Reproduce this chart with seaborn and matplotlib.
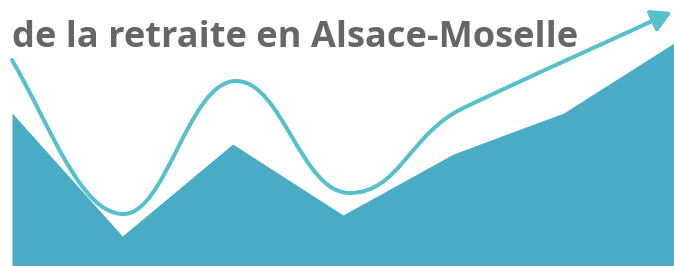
import matplotlib
matplotlib.use("Agg")
import matplotlib.pyplot as plt
import seaborn as sns
import pandas as pd
from matplotlib.path import Path
from matplotlib.patches import FancyArrowPatch

sns.set_theme(style="white")
plt.rcParams['font.family'] = ['Open Sans', 'DejaVu Sans']

# Area series (category index, value)
area_x = [0, 1, 2, 3, 4, 5, 6]
area_y = [153, 30, 122, 51, 112, 153, 223]

# Trend curve: bezier anchor/control points (x in category units, y in value units)
curve_x = [0.0, 0.35, 0.62, 1.01, 1.4, 1.6, 2.03, 2.45, 2.62, 3.06, 3.51, 3.60, 4.09, 4.7, 5.4, 5.98]
curve_y = [206, 140, 52, 52, 52, 185, 185, 185, 73, 73, 73, 132, 158, 190, 224.5, 254]

title = "de la retraite en Alsace-Moselle"

area_color = "#4aabc4"
curve_color = "#57c0cf"

fig = plt.figure(figsize=(6.74, 2.66), dpi=100)
ax = fig.add_axes([0, 0, 1, 1])

df = pd.DataFrame({"x": area_x, "y": area_y})
sns.lineplot(data=df, x="x", y="y", ax=ax, color=area_color, linewidth=0)
ax.fill_between(df["x"], df["y"], 0, color=area_color, linewidth=0)

codes = [Path.MOVETO] + [Path.CURVE4] * (len(curve_x) - 1)
path = Path(list(zip(curve_x, curve_y)), codes)
arrow = FancyArrowPatch(path=path, arrowstyle='-|>,head_length=0.8,head_width=0.45',
                        mutation_scale=15, color=curve_color, linewidth=2.9,
                        shrinkA=0, shrinkB=0, capstyle='round', joinstyle='round')
ax.add_patch(arrow)

px = 110.33
ax.set_xlim(-12 / px, 6)
ax.set_ylim(0, 266)
ax.axis("off")

fig.text(12 / 674, 1 - 47 / 266, title, fontsize=26.1, fontweight='bold',
         color="#666666", ha='left', va='baseline')

fig.savefig("out.png", dpi=100, facecolor="white")
